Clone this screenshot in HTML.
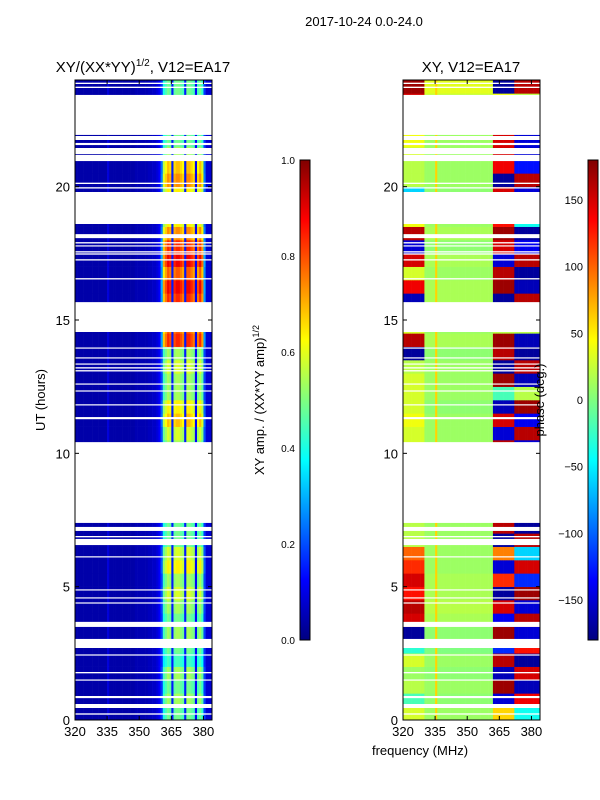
<!DOCTYPE html>
<html><head><meta charset="utf-8"><style>
body{margin:0;background:#fff}
svg{display:block;font-family:"Liberation Sans",sans-serif}
</style></head><body>
<svg id="fig" width="600" height="800" viewBox="0 0 600 800">
<defs>
<linearGradient id="jet" x1="0" y1="1" x2="0" y2="0">
<stop offset="0" stop-color="#000080"/><stop offset="0.125" stop-color="#0000ff"/>
<stop offset="0.375" stop-color="#00ffff"/><stop offset="0.625" stop-color="#ffff00"/>
<stop offset="0.875" stop-color="#ff0000"/><stop offset="1" stop-color="#800000"/>
</linearGradient>
</defs>
<text x="364" y="26" font-size="13" text-anchor="middle">2017-10-24 0.0-24.0</text>
<text x="143" y="72" font-size="15" text-anchor="middle">XY/(XX*YY)<tspan font-size="10" dy="-6">1/2</tspan><tspan dy="6">, V12=EA17</tspan></text>
<text x="471" y="72" font-size="15" text-anchor="middle">XY, V12=EA17</text>
<g id="left"></g>
<g id="right"></g>
<g id="axes"></g>
<text transform="translate(45,400) rotate(-90)" font-size="13" text-anchor="middle">UT (hours)</text>
<text x="420" y="755" font-size="13" text-anchor="middle">frequency (MHz)</text>
<rect x="300" y="160" width="10" height="480" fill="url(#jet)" stroke="#000" stroke-width="1"/>
<rect x="588" y="160" width="10" height="480" fill="url(#jet)" stroke="#000" stroke-width="1"/>
<text transform="translate(264,400) rotate(-90)" font-size="13" text-anchor="middle">XY amp. / (XX*YY amp)<tspan font-size="9" dy="-5">1/2</tspan></text>
<text transform="translate(544,400) rotate(-90)" font-size="13" text-anchor="middle">phase (deg.)</text>
</svg>
<script>
const ampTicks=[0.0,0.2,0.4,0.6,0.8,1.0];
const phaseTicks=[-150,-100,-50,0,50,100,150];
const hourTicks=[0,5,10,15,20];
const freqTicks=[320,335,350,365,380];
// amplitude level of bright band per half-hour (48)
const ampRowLevel=[0.45,0.5,0.45,0.5,0.4,0.45,0.5,0.45,0.5,0.55,0.5,0.6,0.55,0.45,0.45,0.45,0.45,0.45,0.45,0.45,0.5,0.55,0.65,0.6,0.5,0.5,0.55,0.5,0.8,0.75,0.75,0.8,0.85,0.75,0.85,0.8,0.7,0.6,0.6,0.6,0.7,0.65,0.5,0.45,0.5,0.5,0.45,0.45];
// spectral profile per 1 MHz bin (64, 320-384)
const ampColProfile=[0.04,0.04,0.04,0.04,0.04,0.04,0.04,0.04,0.04,0.04,0.04,0.04,0.04,0.04,0.04,0.09,0.04,0.04,0.04,0.04,0.04,0.04,0.04,0.04,0.04,0.04,0.04,0.04,0.05,0.05,0.05,0.05,0.05,0.05,0.06,0.06,0.07,0.07,0.09,0.12,0.3,0.8,0.9,1,0.95,0.15,0.95,1,1,0.95,0.9,0.15,1,1,0.95,0.9,0.12,0.9,1,0.85,0.3,0.08,0.08,0.08];
// phase per half-hour (deg) for low band, middle band, high band
const phaseLow=[30,-20,20,10,30,-30,-170,150,160,130,150,120,100,20,20,20,20,20,20,20,30,30,40,30,30,30,20,-170,160,30,30,-160,140,30,150,-150,160,40,40,-60,20,20,30,40,30,30,150,170];
const phaseMid=[10,5,10,5,10,0,5,15,20,15,15,10,10,10,10,10,10,10,10,10,10,10,10,5,10,10,10,5,15,10,10,15,15,10,15,5,15,10,10,5,10,10,10,10,10,10,25,35];
const phaseHigh=[60,-150,170,-160,160,-120,170,-140,150,-170,120,-150,90,-170,160,20,20,20,20,20,160,-150,150,-160,-20,170,-170,160,170,20,20,-170,170,160,-150,150,170,130,130,150,-170,140,150,150,-160,30,40,-170];
const phaseHigh2=[-40,140,-160,150,-170,130,-150,160,-150,170,-120,150,-60,160,-170,20,20,20,20,20,-150,160,-140,170,20,-160,160,-170,-160,20,20,160,-160,-170,160,-140,-170,-40,-50,-150,160,-130,-150,-150,170,10,20,160];
// flagged (blanked) time ranges [start h, end h]
const flags=[[0.2,0.25],[0.45,0.6],[0.82,0.9],[1.48,1.52],[1.75,1.8],[2.42,2.46],[2.7,3.04],[3.49,3.68],[4.37,4.41],[4.56,4.6],[4.86,4.9],[6.1,6.14],[6.56,6.79],[6.85,6.9],[7.09,7.24],[7.39,10.42],[11.28,11.36],[11.8,11.84],[12.32,12.36],[12.58,12.62],[13.07,13.12],[13.18,13.23],[13.33,13.37],[13.56,13.6],[13.93,13.97],[14.55,15.67],[16.52,16.57],[17.23,17.28],[17.45,17.5],[17.53,17.58],[17.76,17.8],[17.87,17.92],[18.07,18.22],[18.6,19.8],[19.93,19.98],[20.1,20.15],[20.96,21.19],[21.22,21.45],[21.56,21.64],[21.75,21.9],[21.94,23.44],[23.7,23.75],[23.85,23.9]];

const NS='http://www.w3.org/2000/svg';
const Y0=720,Y1=80,H0=0,H1=24,F0=320,F1=384;
const yS=h=>Y0+(h-H0)*(Y1-Y0)/(H1-H0);
function xS(px0,px1){return f=>px0+(f-F0)*(px1-px0)/(F1-F0);}
const stops=[[0,0,0,128],[0.125,0,0,255],[0.375,0,255,255],[0.625,255,255,0],[0.875,255,0,0],[1,128,0,0]];
function jet(v){v=Math.max(0,Math.min(1,v));for(let i=1;i<stops.length;i++){if(v<=stops[i][0]){const a=stops[i-1],b=stops[i],t=(v-a[0])/(b[0]-a[0]);return `rgb(${Math.round(a[1]+t*(b[1]-a[1]))},${Math.round(a[2]+t*(b[2]-a[2]))},${Math.round(a[3]+t*(b[3]-a[3]))})`;}}return 'rgb(128,0,0)';}
function mk(tag,at,parent){const e=document.createElementNS(NS,tag);for(const k in at)e.setAttribute(k,at[k]);parent.appendChild(e);return e;}

function heat(gid,px0,px1,valFn){
  const g=document.getElementById(gid);const x=xS(px0,px1);
  const nR=48,nC=64;
  for(let i=0;i<nR;i++){
    const h0=i*0.5,h1=h0+0.5;
    const row=mk('g',{},g);
    
    
    for(let j=0;j<nC;j++){
      const f=F0+j;
      const r=mk('rect',{x:x(f).toFixed(2),y:yS(h1).toFixed(2),width:(x(f+1)-x(f)+0.3).toFixed(2),height:(yS(h0)-yS(h1)+0.3).toFixed(2),fill:jet(valFn(i,j))},row);
      
      
    }
  }
  flags.forEach(fl=>{
    const r=mk('rect',{x:px0,y:yS(fl[1]),width:px1-px0,height:Math.max(1.2,yS(fl[0])-yS(fl[1])),fill:'#fff'},g);
    
    
  });
}
heat('left',75,212,(i,j)=>{const c=ampColProfile[j];return c<0.2?c:0.04+c*ampRowLevel[i];});
heat('right',403,540,(i,j)=>{let p;if(j<10)p=phaseLow[i];else if(j<42)p=phaseMid[i];else if(j<52)p=phaseHigh[i];else p=phaseHigh2[i];if(j===15)p=60;return (p+180)/360;});

const ax=document.getElementById('axes');
[[75,212,'left'],[403,540,'right']].forEach(([a,b,nm])=>{
  const fr=mk('rect',{x:a,y:80,width:b-a,height:640,fill:'none',stroke:'#000','stroke-width':1},ax);
  
  
  const x=xS(a,b);
  hourTicks.forEach(h=>{
    mk('line',{x1:a,x2:a+4,y1:yS(h),y2:yS(h),stroke:'#000'},ax);
    mk('line',{x1:b,x2:b-4,y1:yS(h),y2:yS(h),stroke:'#000'},ax);
    const t=mk('text',{x:a-5,y:yS(h)+5,'font-size':13,'text-anchor':'end'},ax);t.textContent=h;
    
    
  });
  freqTicks.forEach(f=>{
    mk('line',{x1:x(f),x2:x(f),y1:720,y2:716,stroke:'#000'},ax);
    mk('line',{x1:x(f),x2:x(f),y1:80,y2:84,stroke:'#000'},ax);
    const t=mk('text',{x:x(f),y:736,'font-size':13,'text-anchor':'middle'},ax);t.textContent=f;
    
    
  });
});
ampTicks.forEach(v=>{const y=640-v*480;
  mk('line',{x1:300,x2:303,y1:y,y2:y,stroke:'#000'},ax);mk('line',{x1:310,x2:307,y1:y,y2:y,stroke:'#000'},ax);
  const t=mk('text',{x:295,y:y+4,'font-size':10,'text-anchor':'end'},ax);t.textContent=v.toFixed(1);
  
  });
phaseTicks.forEach(v=>{const y=640-(v+180)/360*480;
  mk('line',{x1:588,x2:591,y1:y,y2:y,stroke:'#000'},ax);mk('line',{x1:598,x2:595,y1:y,y2:y,stroke:'#000'},ax);
  const t=mk('text',{x:583,y:y+4,'font-size':11,'text-anchor':'end'},ax);t.textContent=v<0?'\u2212'+(-v):v;
  
  });
</script>
</body></html>
